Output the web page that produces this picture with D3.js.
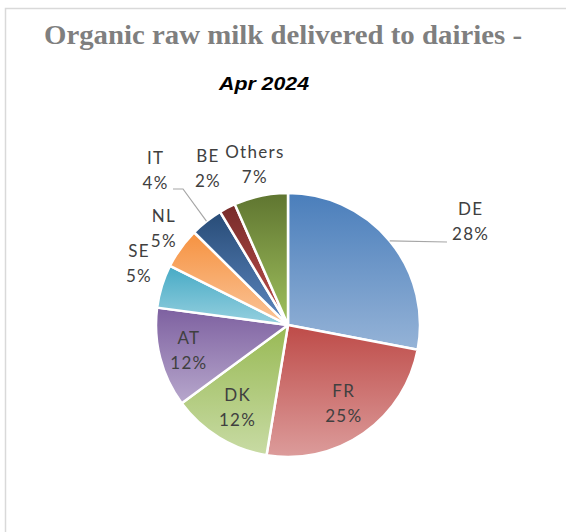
<!DOCTYPE html>
<html>
<head>
<meta charset="utf-8">
<script src="https://cdn.jsdelivr.net/npm/d3@7"></script>
<style>
  html, body { margin: 0; padding: 0; background: #fff; }
  svg { display: block; }
</style>
</head>
<body>
<svg id="chart" width="566" height="532"></svg>
<script>
// ---- data ----
const categories = ["DE", "FR", "DK", "AT", "SE", "NL", "IT", "BE", "Others"];
const shares = [28.0, 24.6, 12.3, 12.2, 5.3, 5.0, 4.0, 2.0, 6.6];
const titleText = "Organic raw milk delivered to dairies -";
const subtitleText = "Apr 2024";

// ---- styles (not data) ----
const gradTop = ["#4a7ebb", "#be4b48", "#98b954", "#7d60a0", "#46aac5", "#f69240", "#284c77", "#772c2a", "#5f7530"];
const gradBottom = ["#95b3d7", "#dc9c9b", "#c8dba4", "#b7a7cc", "#96d0df", "#fac59a", "#5d87c0", "#c0504d", "#a0c15e"];
// label layout: radius factor from centre, pixel nudges, leader line flag
const labelLayout = [
  { f: 1.0, dx: 182, dy: -103, abs: true, leader: "de" },
  { f: 0.73, dx: 0, dy: 0 },
  { f: 0.74, dx: 0, dy: 0 },
  { f: 0.78, dx: 0, dy: 0 },
  { f: 1.21, dx: 3, dy: -14 },
  { f: 1.20, dx: 4, dy: -4 },
  { f: 1.0, dx: -133, dy: -154, abs: true, leader: "it" },
  { f: 1.33, dx: 0, dy: 0 },
  { f: 1.24, dx: 0, dy: 0 }
];

const svg = d3.select("#chart");
const W = 566, H = 532;

// frame
svg.append("rect").attr("x", 5.5).attr("y", 8.5).attr("width", W).attr("height", H)
  .attr("fill", "#fff").attr("stroke", "#d9d9d9").attr("stroke-width", 1.5);

// titles
svg.append("text").attr("x", 283).attr("y", 44).attr("text-anchor", "middle")
  .attr("font-family", "'Liberation Serif', 'DejaVu Serif', serif").attr("font-weight", "bold")
  .attr("font-size", 28).attr("fill", "#7f7f7f")
  .attr("textLength", 478).attr("lengthAdjust", "spacingAndGlyphs")
  .text(titleText);
svg.append("text").attr("x", 264).attr("y", 90).attr("text-anchor", "middle")
  .attr("font-family", "'Liberation Sans', Arial, sans-serif").attr("font-weight", "bold")
  .attr("font-style", "italic").attr("font-size", 19).attr("fill", "#000")
  .attr("textLength", 90).attr("lengthAdjust", "spacingAndGlyphs")
  .text(subtitleText);

// pie
const cx = 288, cy = 325, R = 132;
const data = categories.map((c, i) => ({ cat: c, value: shares[i], i }));
const pie = d3.pie().sort(null).value(d => d.value);
const arcs = pie(data);
const arc = d3.arc().innerRadius(0).outerRadius(R);

const defs = svg.append("defs");
arcs.forEach((a, i) => {
  const g = defs.append("linearGradient").attr("id", "g" + i)
    .attr("x1", 0).attr("y1", 0).attr("x2", 0).attr("y2", 1);
  g.append("stop").attr("offset", "0%").attr("stop-color", gradTop[i]);
  g.append("stop").attr("offset", "100%").attr("stop-color", gradBottom[i]);
});

const gPie = svg.append("g").attr("transform", `translate(${cx},${cy})`);
gPie.selectAll("path").data(arcs).join("path")
  .attr("d", arc)
  .attr("fill", (d, i) => `url(#g${i})`)
  .attr("stroke", "#fff").attr("stroke-width", 2.5).attr("stroke-linejoin", "round");

// labels
const fmt = v => d3.format(".0f")(v) + "%";
const polar = (ang, r) => [r * Math.sin(ang), -r * Math.cos(ang)];
const lg = svg.append("g").attr("transform", `translate(${cx},${cy})`);
arcs.forEach((a, i) => {
  const L = labelLayout[i];
  const mid = (a.startAngle + a.endAngle) / 2;
  let x, y;
  if (L.abs) { x = L.dx; y = L.dy; }
  else { [x, y] = polar(mid, R * L.f); x += L.dx; y += L.dy; }
  if (L.leader) {
    const p0 = polar(mid, R);
    let pts;
    if (L.leader === "de") pts = [p0, [x - 23, y + 20]];
    else pts = [p0, [x + 28, y + 18], [x + 18, y + 18]];
    lg.append("path").attr("d", d3.line()(pts))
      .attr("fill", "none").attr("stroke", "#a6a6a6").attr("stroke-width", 1.2);
  }
  const t = lg.append("text").attr("text-anchor", "middle")
    .attr("font-family", "Lato, 'Open Sans', sans-serif").attr("font-size", 17)
    .attr("fill", "#404040").attr("letter-spacing", 1.3);
  t.append("tspan").attr("x", x + 0.6).attr("y", y - 7).text(a.data.cat);
  t.append("tspan").attr("x", x + 0.6).attr("y", y + 18).text(fmt(a.data.value));
});
</script>
</body>
</html>
